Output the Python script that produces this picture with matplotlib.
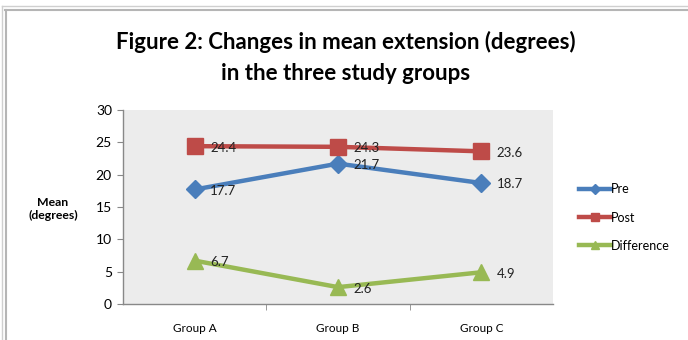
import numpy as np
import matplotlib.pyplot as plt
from matplotlib.lines import Line2D

# data
groups = ["Group A", "Group B", "Group C"]
pre = [17.7, 21.7, 18.7]
post = [24.4, 24.3, 23.6]
diff = [6.7, 2.6, 4.9]
yticks = [0, 5, 10, 15, 20, 25, 30]

plt.rcParams['font.family'] = ['Lato', 'DejaVu Sans']

fig = plt.figure(figsize=(6.88, 3.40), dpi=100, facecolor='white')
ax = fig.add_axes([0.1788, 0.106, 0.625, 0.5706])
ax.set_facecolor('#ececec')

x = np.arange(len(groups))
series = [
    ("Pre", pre, '#4a7ebb', 'D', 9),
    ("Post", post, '#be4b48', 's', 11),
    ("Difference", diff, '#98b954', '^', 11),
]
for name, vals, col, mk, ms in series:
    ax.plot(x, vals, color=col, lw=3.2, marker=mk, markersize=ms,
            markeredgecolor=col, label=name)
    for xi, v in zip(x, vals):
        ax.annotate(f"{v}", (xi, v), xytext=(11, -1), textcoords='offset points',
                    ha='left', va='center', fontsize=9.5, color='#222222')

ax.set_xlim(-0.5, 2.5)
ax.set_ylim(0, 30)
ax.set_yticks(yticks)
ax.set_xticks(x)
ax.set_xticklabels(groups)
ax.set_xticks([0.5, 1.5], minor=True)
ax.tick_params(axis='x', which='major', length=0, pad=14, labelsize=8.5)
ax.tick_params(axis='x', which='minor', length=4, direction='out', color='#888888')
ax.tick_params(axis='y', length=4, color='#888888', labelsize=10, pad=4)
for s in ['top', 'right']:
    ax.spines[s].set_visible(False)
for s in ['left', 'bottom']:
    ax.spines[s].set_color('#888888')
    ax.spines[s].set_linewidth(1.0)

fig.text(0.077, 0.385, "Mean\n(degrees)", ha='center', va='center',
         fontsize=8.8, fontweight='bold', linespacing=1.3)

fig.text(0.502, 0.832, "Figure 2: Changes in mean extension (degrees)\nin the three study groups",
         ha='center', va='center', fontsize=16, fontweight='bold', linespacing=1.6)

leg = fig.legend(loc='center left', bbox_to_anchor=(0.825, 0.36), frameon=False,
                 fontsize=9, handlelength=2.6, handletextpad=0.0, labelspacing=1.3,
                 markerscale=0.55)

# outer frame of the original screenshot
fig.add_artist(Line2D([0.003, 1.0], [0.982, 0.982], transform=fig.transFigure,
                      color='#cfcfcf', lw=1))
fig.add_artist(Line2D([0.007, 1.0], [0.970, 0.970], transform=fig.transFigure,
                      color='#b5b5b5', lw=1.5))
fig.add_artist(Line2D([0.003, 0.003], [0.0, 0.982], transform=fig.transFigure,
                      color='#cfcfcf', lw=1))
fig.add_artist(Line2D([0.008, 0.008], [0.0, 0.970], transform=fig.transFigure,
                      color='#b5b5b5', lw=1.5))

fig.savefig('out.png', dpi=100, facecolor='white')
